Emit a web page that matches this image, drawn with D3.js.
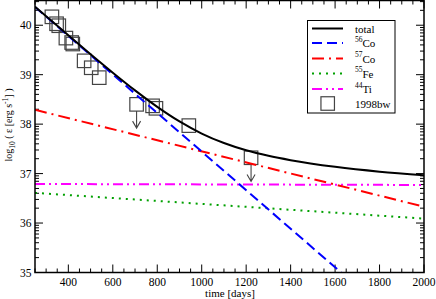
<!DOCTYPE html>
<html>
<head>
<meta charset="utf-8">
<script src="https://cdn.jsdelivr.net/npm/d3@7"></script>
<style>
  body { margin: 0; background: #fff; }
  svg { display: block; }
  svg text { font-family: "Liberation Serif", "Times New Roman", "DejaVu Serif", serif; }
</style>
</head>
<body>
<div id="chart"></div>
<script>
'use strict';

// model curves, log10 of luminosity vs. days
var totalDays = [250, 400, 500, 600, 700, 800, 900, 1000, 1100, 1200, 1300, 1400, 1600, 1800, 2000];
var totalLog  = [40.374, 39.795, 39.414, 39.041, 38.683, 38.350, 38.055, 37.810, 37.618, 37.471, 37.359, 37.271, 37.137, 37.039, 36.967];

var co56Days = [250, 1700];
var co56Log  = [40.37, 34.715];
var co57Days = [250, 2000];
var co57Log  = [38.29, 36.33];
var fe55Days = [250, 2000];
var fe55Log  = [36.61, 36.09];
var ti44Days = [250, 2000];
var ti44Log  = [36.79, 36.77];

// SN 1998bw points (1 = upper limit)
var obsDays  = [326, 347, 357, 389, 415, 420, 471, 503, 539, 707, 779, 794, 942, 1222];
var obsLog   = [40.17, 40.03, 39.99, 39.74, 39.65, 39.62, 39.28, 39.14, 38.94, 38.40, 38.37, 38.32, 37.97, 37.32];
var obsLimit = [0, 0, 0, 0, 0, 0, 0, 0, 0, 1, 0, 0, 0, 1];

var xTicks = [400, 600, 800, 1000, 1200, 1400, 1600, 1800, 2000];
var yTicks = [35, 36, 37, 38, 39, 40];

var width = 436,
  height = 299,
  plotL = 35, plotR = 424, plotT = 0.5, plotB = 272.5;

var x = d3.scaleLinear().domain([250, 2000]).range([plotL, plotR]);
var y = d3.scaleLinear().domain([35, 40.5]).range([plotB, plotT]);

var svg = d3.select('#chart').append('svg')
  .attr('width', width)
  .attr('height', height);

svg.append('defs').append('clipPath').attr('id', 'clip')
  .append('rect')
  .attr('x', plotL).attr('y', plotT)
  .attr('width', plotR - plotL).attr('height', plotB - plotT);

// ticks, inward on all four sides
var minorX = d3.range(250, 2001, 50);
var minorY = [];
yTicks.forEach(function(v) {
  for (var k = 2; k <= 9; k++) {
    if (v + Math.log10(k) < 40.5) minorY.push(v + Math.log10(k));
  }
});

var ticks = svg.append('g').attr('stroke', '#000').attr('stroke-width', 1);
minorX.forEach(function(d) {
  var len = (d % 200 === 0) ? 8 : 4;
  ticks.append('line').attr('x1', x(d)).attr('x2', x(d)).attr('y1', plotB).attr('y2', plotB - len);
  ticks.append('line').attr('x1', x(d)).attr('x2', x(d)).attr('y1', plotT).attr('y2', plotT + len);
});
yTicks.concat(minorY).forEach(function(d, i) {
  var len = i < yTicks.length ? 8 : 4;
  ticks.append('line').attr('y1', y(d)).attr('y2', y(d)).attr('x1', plotL).attr('x2', plotL + len);
  ticks.append('line').attr('y1', y(d)).attr('y2', y(d)).attr('x1', plotR).attr('x2', plotR - len);
});

// tick labels
svg.append('g').selectAll('text').data(xTicks).enter().append('text')
  .attr('x', function(d) { return x(d); })
  .attr('y', 285.5)
  .attr('text-anchor', 'middle')
  .attr('font-size', 11.5)
  .text(function(d) { return d; });

svg.append('g').selectAll('text').data(yTicks).enter().append('text')
  .attr('x', 31.5)
  .attr('y', function(d) { return y(d) + 4; })
  .attr('text-anchor', 'end')
  .attr('font-size', 11.5)
  .text(function(d) { return d; });

svg.append('text')
  .attr('x', 230)
  .attr('y', 297)
  .attr('text-anchor', 'middle')
  .attr('font-size', 11)
  .text('time [days]');

var ylab = svg.append('text')
  .attr('transform', 'translate(12,125) rotate(-90)')
  .attr('text-anchor', 'middle')
  .attr('font-size', 10);
ylab.append('tspan').text('log');
ylab.append('tspan').attr('font-size', 7.5).attr('dy', 3).text('10');
ylab.append('tspan').attr('dy', -3).text(' ( \u03b5 [erg s');
ylab.append('tspan').attr('font-size', 7.5).attr('dy', -4.5).text('-1');
ylab.append('tspan').attr('dy', 4.5).text('] )');

// curves
var line = d3.line()
  .x(function(d) { return x(d[0]); })
  .y(function(d) { return y(d[1]); })
  .curve(d3.curveMonotoneX);

var series = [
  {name: 'total', days: totalDays, vals: totalLog, color: '#000', dash: null},
  {name: 'co56', days: co56Days, vals: co56Log, color: '#0000ff', dash: '10,5'},
  {name: 'co57', days: co57Days, vals: co57Log, color: '#ff0000', dash: '12,5,2,5'},
  {name: 'fe55', days: fe55Days, vals: fe55Log, color: '#00a000', dash: '2,5'},
  {name: 'ti44', days: ti44Days, vals: ti44Log, color: '#ff00ff', dash: '10,4,2,4,2,4'}
];

var plot = svg.append('g').attr('clip-path', 'url(#clip)');

// squares and arrows first, curves drawn on top
var sq = 13.5;
obsDays.forEach(function(d, i) {
  var cx = x(d), cy = y(obsLog[i]);
  plot.append('rect')
    .attr('x', cx - sq / 2).attr('y', cy - sq / 2)
    .attr('width', sq).attr('height', sq)
    .attr('fill', 'none')
    .attr('stroke', '#444')
    .attr('stroke-width', 1.2);
  if (obsLimit[i]) {
    var y0 = cy + sq / 2, y1 = y0 + 17;
    plot.append('path')
      .attr('d', 'M' + cx + ',' + y0 + 'V' + y1 + 'M' + (cx - 4) + ',' + (y1 - 7) + 'L' + cx + ',' + y1 + 'L' + (cx + 4) + ',' + (y1 - 7))
      .attr('fill', 'none')
      .attr('stroke', '#444')
      .attr('stroke-width', 1.1);
  }
});

series.slice().reverse().forEach(function(s) {
  plot.append('path')
    .datum(d3.zip(s.days, s.vals))
    .attr('d', line)
    .attr('fill', 'none')
    .attr('stroke', s.color)
    .attr('stroke-width', 2)
    .attr('stroke-dasharray', s.dash);
});

// frame
svg.append('rect')
  .attr('x', plotL).attr('y', plotT)
  .attr('width', plotR - plotL).attr('height', plotB - plotT)
  .attr('fill', 'none')
  .attr('stroke', '#000')
  .attr('stroke-width', 1.5);

// legend
var legend = svg.append('g');
legend.append('rect')
  .attr('x', 307.5).attr('y', 20.5)
  .attr('width', 87.5).attr('height', 92.5)
  .attr('fill', '#fff')
  .attr('stroke', '#000')
  .attr('stroke-width', 1);

var rows = [28.5, 43, 58.5, 73.5, 89, 103.5];
var labels = [['', 'total'], ['56', 'Co'], ['57', 'Co'], ['55', 'Fe'], ['44', 'Ti'], ['', '1998bw']];

series.forEach(function(s, i) {
  legend.append('line')
    .attr('x1', 312).attr('x2', 343)
    .attr('y1', rows[i]).attr('y2', rows[i])
    .attr('stroke', s.color)
    .attr('stroke-width', 2)
    .attr('stroke-dasharray', s.dash);
});
legend.append('rect')
  .attr('x', 327.7 - sq / 2).attr('y', rows[5] - sq / 2)
  .attr('width', sq).attr('height', sq)
  .attr('fill', 'none')
  .attr('stroke', '#444')
  .attr('stroke-width', 1.2);

labels.forEach(function(l, i) {
  var t = legend.append('text')
    .attr('x', 355)
    .attr('y', rows[i] + 4)
    .attr('font-size', 11);
  if (l[0]) {
    t.append('tspan').attr('font-size', 7.5).attr('dy', -5.5).text(l[0]);
    t.append('tspan').attr('dy', 5.5).text(l[1]);
  } else {
    t.text(l[1]);
  }
});
</script>
</body>
</html>
